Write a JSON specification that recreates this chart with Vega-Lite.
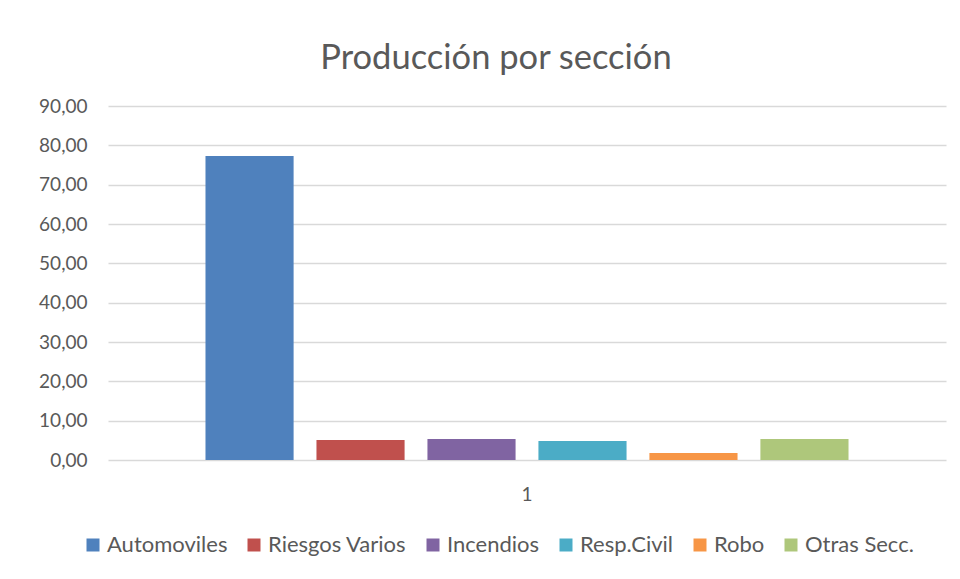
{
  "$schema": "https://vega.github.io/schema/vega-lite/v6.json",
  "autosize": "none",
  "width": 838,
  "height": 354,
  "padding": {"left": 108, "top": 106, "right": 14, "bottom": 119},
  "background": "white",
  "title": {
    "text": "Producción por sección",
    "font": "Lato",
    "fontSize": 34.5,
    "fontWeight": "normal",
    "color": "#595959",
    "anchor": "middle",
    "dx": -31,
    "offset": 21
  },
  "data": {
    "values": [
      {"cat": "1", "serie": "Automoviles", "valor": 77.3, "orden": 1},
      {"cat": "1", "serie": "Riesgos Varios", "valor": 5.1, "orden": 2},
      {"cat": "1", "serie": "Incendios", "valor": 5.35, "orden": 3},
      {"cat": "1", "serie": "Resp.Civil", "valor": 4.85, "orden": 4},
      {"cat": "1", "serie": "Robo", "valor": 1.8, "orden": 5},
      {"cat": "1", "serie": "Otras Secc.", "valor": 5.35, "orden": 6}
    ]
  },
  "mark": {"type": "bar"},
  "encoding": {
    "x": {
      "field": "cat",
      "type": "nominal",
      "scale": {"paddingInner": 0, "paddingOuter": 0.1516},
      "axis": {
        "title": null,
        "labelAngle": 0,
        "ticks": false,
        "domain": false,
        "labelPadding": 25,
        "labelFontSize": 19,
        "labelFont": "Lato",
        "labelColor": "#595959"
      }
    },
    "xOffset": {
      "field": "serie",
      "type": "nominal",
      "sort": ["Automoviles", "Riesgos Varios", "Incendios", "Resp.Civil", "Robo", "Otras Secc."],
      "scale": {"paddingInner": 0.206, "paddingOuter": 0}
    },
    "y": {
      "field": "valor",
      "type": "quantitative",
      "scale": {"domain": [0, 90], "nice": false},
      "axis": {
        "title": null,
        "values": [0, 10, 20, 30, 40, 50, 60, 70, 80, 90],
        "format": ".2f",
        "ticks": false,
        "domain": false,
        "grid": true,
        "gridColor": "#d9d9d9",
        "gridWidth": 1.3,
        "labelPadding": 21,
        "labelFontSize": 19,
        "labelFont": "Lato",
        "labelColor": "#595959"
      }
    },
    "color": {
      "field": "serie",
      "type": "nominal",
      "sort": ["Automoviles", "Riesgos Varios", "Incendios", "Resp.Civil", "Robo", "Otras Secc."],
      "scale": {
        "domain": ["Automoviles", "Riesgos Varios", "Incendios", "Resp.Civil", "Robo", "Otras Secc."],
        "range": ["#4f81bd", "#c0504d", "#8064a2", "#4bacc6", "#f79646", "#aec77b"]
      },
      "legend": {
        "title": null,
        "orient": "none",
        "legendX": -26,
        "legendY": 428,
        "direction": "horizontal",
        "symbolType": "square",
        "symbolSize": 169,
        "symbolStrokeWidth": 0,
        "labelFontSize": 22,
        "labelFont": "Lato",
        "labelColor": "#595959",
        "labelOffset": 3,
        "columnPadding": 15
      }
    }
  },
  "config": {
    "locale": {
      "number": {"decimal": ",", "thousands": ".", "grouping": [3], "currency": ["", " €"]}
    },
    "view": {"stroke": null},
    "axis": {"gridColor": "#d9d9d9"}
  }
}
